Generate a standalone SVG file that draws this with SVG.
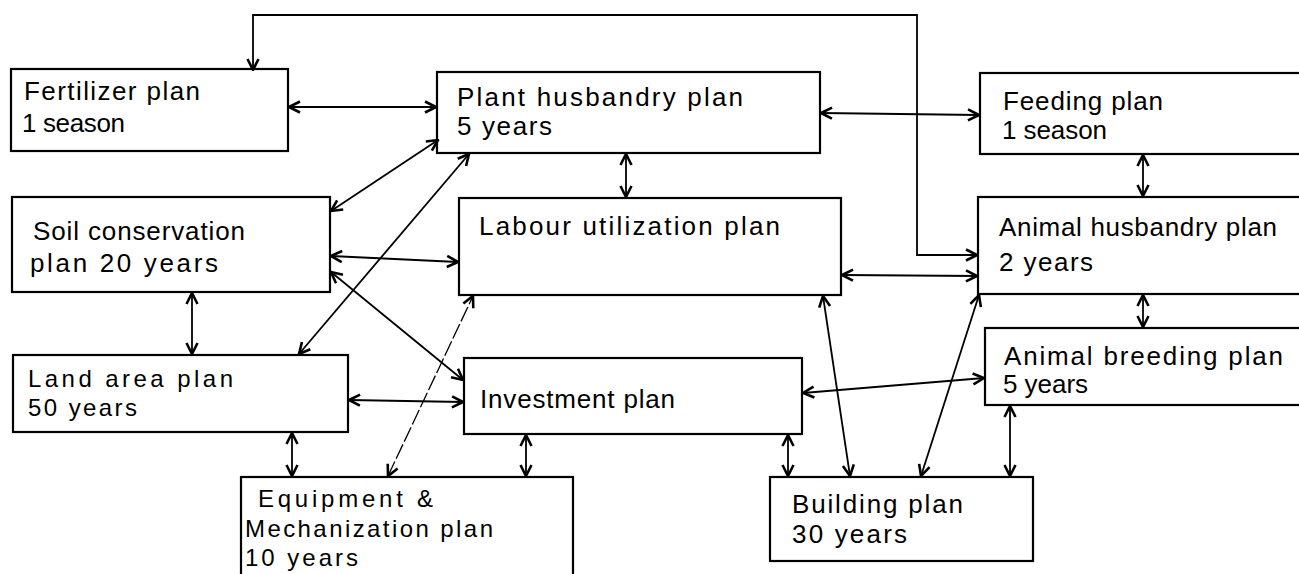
<svg xmlns="http://www.w3.org/2000/svg" width="1299" height="574" viewBox="0 0 1299 574">
<style>
.box{fill:#fff;stroke:#000;stroke-width:2.2}
.t{font-family:"Liberation Sans",Arial,sans-serif;font-size:26px;fill:#000}
.s{font-size:24px}
.c{fill:none;stroke:#000;stroke-width:1.8;marker-start:url(#ah);marker-end:url(#ah)}
.dash{stroke-width:1.3;stroke-dasharray:16 3}
</style>
<defs>
<marker id="ah" viewBox="0 0 14 14" refX="13" refY="7" markerWidth="14" markerHeight="14" markerUnits="userSpaceOnUse" orient="auto-start-reverse">
<path d="M2,1.5 L13,7 L2,12.5" fill="none" stroke="#000" stroke-width="2.6"/>
</marker>
</defs>
<rect width="1299" height="574" fill="#fff"/>
<g id="fertilizer"><rect class="box" x="11" y="69" width="277" height="82"/>
<text class="t" x="24" y="100" textLength="176" lengthAdjust="spacing">Fertilizer plan</text>
<text class="t" x="22" y="132" textLength="103" lengthAdjust="spacing">1 season</text></g>
<g id="plant"><rect class="box" x="437" y="72" width="383" height="81"/>
<text class="t" x="457" y="106" textLength="286" lengthAdjust="spacing">Plant husbandry plan</text>
<text class="t" x="457" y="135" textLength="95" lengthAdjust="spacing">5 years</text></g>
<g id="feeding"><rect class="box" x="980" y="73" width="330" height="81"/>
<text class="t" x="1003" y="110" textLength="160" lengthAdjust="spacing">Feeding plan</text>
<text class="t" x="1002" y="139" textLength="105" lengthAdjust="spacing">1 season</text></g>
<g id="soil"><rect class="box" x="12" y="197" width="318" height="95"/>
<text class="t" x="33" y="240" textLength="212" lengthAdjust="spacing">Soil conservation</text>
<text class="t" x="30" y="272" textLength="188" lengthAdjust="spacing">plan 20 years</text></g>
<g id="labour"><rect class="box" x="459" y="198" width="382" height="97"/>
<text class="t" x="479" y="235" textLength="301" lengthAdjust="spacing">Labour utilization plan</text></g>
<g id="animal-husbandry"><rect class="box" x="978" y="197" width="330" height="97"/>
<text class="t" x="999" y="236" textLength="278" lengthAdjust="spacing">Animal husbandry plan</text>
<text class="t" x="999" y="271" textLength="94" lengthAdjust="spacing">2 years</text></g>
<g id="animal-breeding"><rect class="box" x="985" y="328" width="325" height="77"/>
<text class="t" x="1004" y="365" textLength="279" lengthAdjust="spacing">Animal breeding plan</text>
<text class="t" x="1003" y="393" textLength="85" lengthAdjust="spacing">5 years</text></g>
<g id="land"><rect class="box" x="13" y="355" width="335" height="77"/>
<text class="t s" x="28" y="387" textLength="205" lengthAdjust="spacing">Land area plan</text>
<text class="t s" x="28" y="416" textLength="109" lengthAdjust="spacing">50 years</text></g>
<g id="investment"><rect class="box" x="464" y="358" width="338" height="76"/>
<text class="t" x="480" y="408" textLength="195" lengthAdjust="spacing">Investment plan</text></g>
<g id="equipment"><rect class="box" x="241" y="477" width="332" height="110"/>
<text class="t s" x="258" y="507" textLength="175" lengthAdjust="spacing">Equipment &amp;</text>
<text class="t s" x="245" y="537" textLength="248" lengthAdjust="spacing">Mechanization plan</text>
<text class="t s" x="245" y="566" textLength="113" lengthAdjust="spacing">10 years</text></g>
<g id="building"><rect class="box" x="770" y="477" width="263" height="84"/>
<text class="t" x="792" y="513" textLength="171" lengthAdjust="spacing">Building plan</text>
<text class="t" x="792" y="543" textLength="115" lengthAdjust="spacing">30 years</text></g>
<g id="connectors">
<path class="c" d="M253,70 V15 H917 V255 H977"/>
<path class="c" d="M289,107 H436"/>
<path class="c" d="M821,113 L979,115"/>
<path class="c" d="M626,154 V197"/>
<path class="c" d="M1143,155 V196"/>
<path class="c" d="M331,211 L438,140"/>
<path class="c" d="M299,354 L469,154"/>
<path class="c" d="M331,256 L458,262"/>
<path class="c" d="M331,272 L463,380"/>
<path class="c dash" d="M388,476 L473,296"/>
<path class="c" d="M349,400 L463,402"/>
<path class="c" d="M192,293 V354"/>
<path class="c" d="M292,433 V476"/>
<path class="c" d="M526,435 V476"/>
<path class="c" d="M788,435 V476"/>
<path class="c" d="M842,275 L977,276"/>
<path class="c" d="M823,296 L850,476"/>
<path class="c" d="M803,393 L984,378"/>
<path class="c" d="M921,476 L979,295"/>
<path class="c" d="M1143,295 V327"/>
<path class="c" d="M1010,406 V476"/>
</g>
</svg>
